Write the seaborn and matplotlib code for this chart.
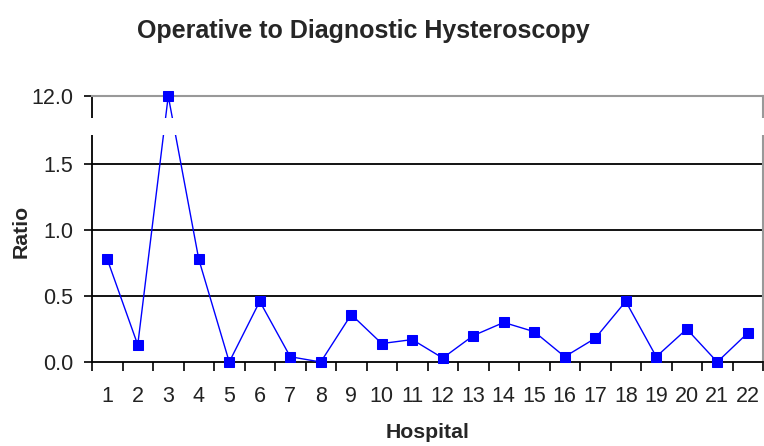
import numpy as np
import pandas as pd
import matplotlib
matplotlib.use("Agg")
import matplotlib.pyplot as plt
from matplotlib.patches import Rectangle
import seaborn as sns

# Operative / diagnostic hysteroscopy ratio per hospital
hospitals = list(range(1, 23))
ratios = [0.78, 0.13, 12.0, 0.78, 0.00, 0.46, 0.04, 0.00, 0.36, 0.14, 0.17,
          0.03, 0.20, 0.30, 0.23, 0.04, 0.18, 0.46, 0.04, 0.25, 0.00, 0.22]
y_ticks = [0.0, 0.5, 1.0, 1.5, 12.0]
y_tick_labels = ["0.0", "0.5", "1.0", "1.5", "12.0"]
grid_values = [0.5, 1.0, 1.5]

df = pd.DataFrame({"Hospital": hospitals, "Ratio": ratios})

sns.set_style("white")
plt.rcParams["font.family"] = ["Liberation Sans", "DejaVu Sans"]

# Piecewise scale: linear up to the break, strongly compressed above it
BREAK = 1.75
K = 0.02615


def fwd(y):
    y = np.asarray(y, dtype=float)
    return np.where(y <= BREAK, y, BREAK + (y - BREAK) * K)


def inv(t):
    t = np.asarray(t, dtype=float)
    return np.where(t <= BREAK, t, BREAK + (t - BREAK) / K)


W, H = 764, 446
fig = plt.figure(figsize=(W / 100, H / 100), dpi=100)
left, right, bottom, top = 92, 763, 362, 96
ax = fig.add_axes([left / W, (H - bottom) / H, (right - left) / W, (bottom - top) / H])
ax.set_yscale("function", functions=(fwd, inv))

sns.lineplot(data=df, x="Hospital", y="Ratio", ax=ax, color="#0000FF",
             marker="s", markersize=7.5, markeredgecolor="#0000FF",
             linewidth=1.0, zorder=5)
for ln in ax.lines:
    ln.set_clip_on(False)

# horizontal gridlines
for g in grid_values:
    ax.axhline(g, color="black", linewidth=1.3, zorder=1)

ax.set_xlim(0.5, 22.5)
ax.set_ylim(0, 12.0)

ax.set_yticks(y_ticks)
ax.set_yticklabels(y_tick_labels)
ax.set_xticks(hospitals)
ax.set_xticklabels([str(h) for h in hospitals])
ax.set_xticks(np.arange(0.5, 23, 1.0), minor=True)

ax.tick_params(axis="y", which="major", direction="out", length=5.5, width=1.2,
               color="black", pad=8, labelsize=15.5, labelcolor="#222222", left=True)
ax.tick_params(axis="x", which="major", length=0, pad=17, labelsize=15.5,
               labelcolor="#222222", bottom=True)
ax.tick_params(axis="x", which="minor", direction="out", length=6.5, width=1.2,
               color="black", bottom=True)

for side, col in [("left", "black"), ("bottom", "black"),
                  ("right", "#999999"), ("top", "#999999")]:
    ax.spines[side].set_visible(True)
    ax.spines[side].set_color(col)
    ax.spines[side].set_linewidth(1.3 if col == "black" else 1.5)
    ax.spines[side].set_zorder(3)

# axis break band
b0 = (bottom - 135) / (bottom - top)
b1 = (bottom - 118) / (bottom - top)
ax.add_patch(Rectangle((-0.02, b0), 1.04, b1 - b0, transform=ax.transAxes,
                       facecolor="white", edgecolor="none", clip_on=False, zorder=10))

ax.set_xlabel("Hospital", fontsize=15.3, fontweight="bold")
ax.set_ylabel("Ratio", fontsize=15.3, fontweight="bold")
ax.xaxis.set_label_coords(0.5, -(433 - bottom) / (bottom - top), transform=ax.transAxes)
ax.yaxis.set_label_coords((21 - left) / (right - left), 0.49, transform=ax.transAxes)
ax.xaxis.label.set_verticalalignment("center")
ax.yaxis.label.set_verticalalignment("center")

fig.text(363 / W, 1 - 31 / H, "Operative to Diagnostic Hysteroscopy",
         ha="center", va="center", fontsize=18, fontweight="bold")

fig.savefig("out.png", dpi=100, facecolor="white")
